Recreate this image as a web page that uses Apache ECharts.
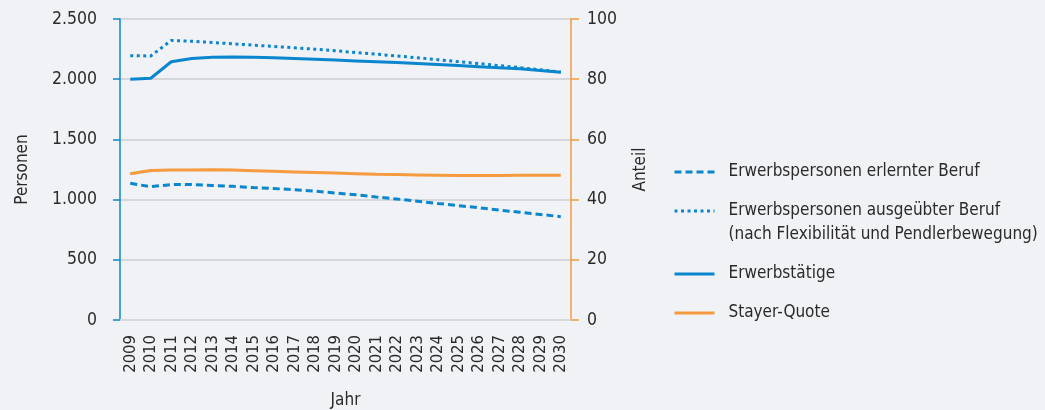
<!DOCTYPE html>
<html>
<head>
<meta charset="utf-8">
<script src="https://cdn.jsdelivr.net/npm/echarts@6/dist/echarts.min.js"></script>
<style>
html,body{margin:0;padding:0;background:#f1f2f6;}
#chart{width:1045px;height:410px;}
</style>
</head>
<body>
<div id="chart"></div>
<script>
var years = ['2009','2010','2011','2012','2013','2014','2015','2016','2017','2018','2019','2020','2021','2022','2023','2024','2025','2026','2027','2028','2029','2030'];
var erlernterBeruf = [1135,1107,1125,1125,1118,1110,1100,1092,1082,1070,1055,1040,1022,1005,987,968,950,932,913,895,877,858];
var ausgeuebterBeruf = [2195,2193,2322,2315,2305,2294,2283,2272,2261,2249,2236,2222,2208,2193,2178,2162,2146,2130,2113,2096,2078,2060];
var erwerbstaetige = [2000,2008,2145,2172,2182,2185,2183,2178,2172,2166,2159,2152,2145,2138,2130,2122,2113,2104,2095,2086,2073,2058];
var stayerQuote = [48.6,49.7,49.8,49.8,49.9,49.8,49.6,49.4,49.2,49.0,48.8,48.6,48.4,48.3,48.2,48.1,48.0,48.0,48.0,48.1,48.1,48.1];
var names = ['Erwerbspersonen erlernter Beruf','Erwerbspersonen ausgeübter Beruf\n(nach Flexibilität und Pendlerbewegung)','Erwerbstätige','Stayer-Quote'];

var FONT = '"DejaVu Sans Condensed","DejaVu Sans",sans-serif';
var TXT = '#2a2a2a';
var BLUE = '#0a86cf';
var ORANGE = '#f59a3e';

function fmt(v){ return String(v).replace(/\B(?=(\d{3})+(?!\d))/g, '.'); }

function legendAt(name, top, twoLine){
  var l = {
    left: 673, top: top, padding: 0, orient: 'vertical',
    itemWidth: 40, itemHeight: 14,
    data: [{name: name}],
    itemStyle: {opacity: 0},
    lineStyle: {width: 3},
    textStyle: {fontFamily: FONT, fontSize: 17, color: TXT, lineHeight: 24, padding: [0,0,0,9]}
  };
  if (twoLine) { l.formatter = function(n){ return ' \n' + n; }; }
  return l;
}

var chart = echarts.init(document.getElementById('chart'));
chart.setOption({
  backgroundColor: '#f1f2f6',
  animation: false,
  grid: {left: 120, right: 474, top: 19, bottom: 90, containLabel: false, outerBoundsMode: 'none'},
  legend: [
    legendAt(names[0], 160),
    legendAt(names[1], 175, true),
    legendAt(names[2], 262),
    legendAt(names[3], 301)
  ],
  xAxis: {
    type: 'category', data: years, boundaryGap: true,
    name: 'Jahr', nameLocation: 'middle', nameGap: 72,
    nameTextStyle: {fontFamily: FONT, fontSize: 17, color: TXT},
    axisLine: {lineStyle: {color: '#d6d7db', width: 2}},
    axisTick: {show: false},
    axisLabel: {rotate: 90, margin: 15, fontFamily: FONT, fontSize: 16.5, color: TXT, interval: 0}
  },
  yAxis: [
    {
      type: 'value', min: 0, max: 2500, interval: 500,
      name: 'Personen', nameLocation: 'middle', nameGap: 89,
      nameTextStyle: {fontFamily: FONT, fontSize: 17, color: TXT},
      axisLine: {show: true, lineStyle: {color: BLUE, width: 1.5}},
      axisTick: {show: true, length: 7, lineStyle: {color: BLUE, width: 1.5}},
      axisLabel: {margin: 23, fontFamily: FONT, fontSize: 17.5, color: TXT, formatter: fmt},
      splitLine: {lineStyle: {color: '#d6d7db', width: 2}}
    },
    {
      type: 'value', min: 0, max: 100, interval: 20, position: 'right',
      name: 'Anteil', nameLocation: 'middle', nameGap: 61,
      nameTextStyle: {fontFamily: FONT, fontSize: 17, color: TXT},
      axisLine: {show: true, lineStyle: {color: ORANGE, width: 1.5}},
      axisTick: {show: true, length: 8, lineStyle: {color: ORANGE, width: 1.5}},
      axisLabel: {margin: 16, fontFamily: FONT, fontSize: 17.5, color: TXT},
      splitLine: {show: false}
    }
  ],
  series: [
    {name: names[0], type: 'line', data: erlernterBeruf, symbol: 'none', color: BLUE,
     lineStyle: {color: BLUE, width: 3, type: [7,4]}},
    {name: names[1], type: 'line', data: ausgeuebterBeruf, symbol: 'none', color: BLUE,
     lineStyle: {color: BLUE, width: 3, type: [3,3.5]}},
    {name: names[2], type: 'line', data: erwerbstaetige, symbol: 'none', color: BLUE,
     lineStyle: {color: BLUE, width: 3}},
    {name: names[3], type: 'line', yAxisIndex: 1, data: stayerQuote, symbol: 'none', color: ORANGE,
     lineStyle: {color: ORANGE, width: 3}}
  ]
});
</script>
</body>
</html>
